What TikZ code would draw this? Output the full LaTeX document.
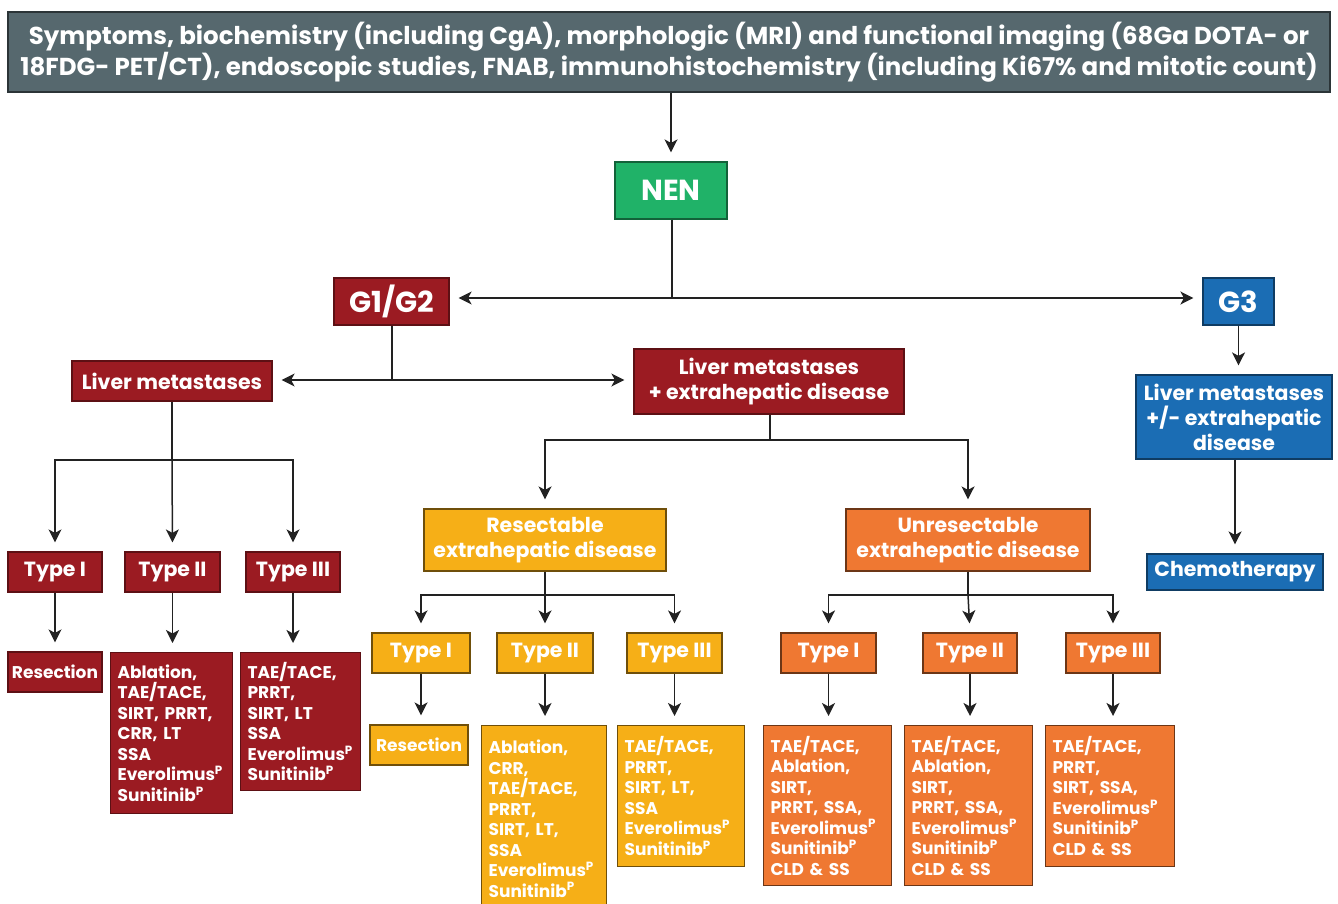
\documentclass[tikz,border=0pt]{standalone}
\usepackage{fontspec}
\setmainfont{Poppins}
\usetikzlibrary{arrows.meta}
\definecolor{cred}{HTML}{9B1B22}
\definecolor{cyel}{HTML}{F6AF17}
\definecolor{corg}{HTML}{EF7832}
\definecolor{cblu}{HTML}{1B6DB4}
\definecolor{cgrn}{HTML}{20B268}
\definecolor{cgry}{HTML}{56686E}
\definecolor{cline}{HTML}{222222}
\tikzset{
  nbox/.style={rectangle, text=white, font=\bfseries, inner sep=0pt, line width=1.2pt, align=center},
  redbox/.style={nbox, fill=cred, draw=cred!60!black},
  yelbox/.style={nbox, fill=cyel, draw=cyel!45!black},
  orgbox/.style={nbox, fill=corg, draw=corg!45!black},
  blubox/.style={nbox, fill=cblu, draw=cblu!55!black},
  grnbox/.style={nbox, fill=cgrn, draw=cgrn!55!black},
  grybox/.style={nbox, fill=cgry, draw=cgry!50!black},
  typef/.style={font=\fontsize{20.5}{25}\selectfont\bfseries},
  bigf/.style={font=\fontsize{29}{32}\selectfont\bfseries},
  resf/.style={font=\fontsize{17}{20}\selectfont\bfseries},
  listbox/.style={anchor=north west, align=left, inner xsep=7pt,
     font=\fontsize{17}{20.5}\selectfont\bfseries},
  conn/.style={draw=cline, line width=1.5pt},
  arr/.style={conn, -{Stealth[length=13pt,width=13pt,inset=3.5pt]}, shorten >=9pt},
}
\newcommand{\sP}{\textsuperscript{P}}
\begin{document}
\begin{tikzpicture}[x=1pt,y=-1pt]
\useasboundingbox (0,0) rectangle (1338,904);
\clip (0,0) rectangle (1338,904);
% top
\node[grybox, minimum width=1322, minimum height=80, font=\fontsize{24.5}{30}\selectfont\bfseries] (top) at (669,52)
  {Symptoms, biochemistry (including CgA), morphologic (MRI) and functional imaging (68Ga DOTA- or\\
   18FDG- PET/CT), endoscopic studies, FNAB, immunohistochemistry (including Ki67\% and mitotic count)};
\node[grnbox, minimum width=112, minimum height=57, bigf] (nen) at (671,190.5) {NEN};
\node[redbox, minimum width=115, minimum height=47, bigf] (g12) at (391.5,301.5) {G1/G2};
\node[blubox, minimum width=71, minimum height=47, bigf] (g3) at (1238.5,301.5) {G3};
\node[redbox, minimum width=200, minimum height=40, typef] (lm) at (172,381) {Liver metastases};
\node[redbox, minimum width=270, minimum height=65, typef] (lme) at (769,381.5) {Liver metastases\\+ extrahepatic disease};
\node[blubox, minimum width=196, minimum height=84, typef] (g3b) at (1234,417) {Liver metastases\\+/- extrahepatic\\disease};
\node[blubox, minimum width=176, minimum height=36, typef] (chemo) at (1235,572) {Chemotherapy};
% left branch
\node[redbox, minimum width=94, minimum height=40, typef] (lt1) at (55,572) {Type I};
\node[redbox, minimum width=95, minimum height=40, typef] (lt2) at (172.5,572) {Type II};
\node[redbox, minimum width=94, minimum height=40, typef] (lt3) at (293,572) {Type III};
\node[redbox, minimum width=94, minimum height=40, resf] (lr1) at (55,672) {Resection};
\node[redbox, listbox, text width=108, minimum height=161] (lr2) at (110,652)
 {Ablation,\\TAE/TACE,\\SIRT, PRRT,\\CRR, LT\\SSA\\Everolimus\sP\\Sunitinib\sP};
\node[redbox, listbox, text width=106, minimum height=138] (lr3) at (240,652)
 {TAE/TACE,\\PRRT,\\SIRT, LT\\SSA\\Everolimus\sP\\Sunitinib\sP};
% middle
\node[yelbox, minimum width=242, minimum height=62, typef] (res) at (545,540) {Resectable\\extrahepatic disease};
\node[orgbox, minimum width=244, minimum height=62, typef] (unres) at (968,540) {Unresectable\\extrahepatic disease};
\node[yelbox, minimum width=98, minimum height=40, typef] (mt1) at (421,653) {Type I};
\node[yelbox, minimum width=96, minimum height=40, typef] (mt2) at (545,653) {Type II};
\node[yelbox, minimum width=95, minimum height=40, typef] (mt3) at (674.5,653) {Type III};
\node[yelbox, minimum width=98, minimum height=40, resf] (mr1) at (419,745) {Resection};
\node[yelbox, listbox, text width=111, minimum height=186] (mr2) at (481,725)
 {Ablation,\\CRR,\\TAE/TACE,\\PRRT,\\SIRT, LT,\\SSA\\Everolimus\sP\\Sunitinib\sP};
\node[yelbox, listbox, text width=113, minimum height=141] (mr3) at (617,725)
 {TAE/TACE,\\PRRT,\\SIRT, LT,\\SSA\\Everolimus\sP\\Sunitinib\sP};
% right
\node[orgbox, minimum width=95, minimum height=40, typef] (rt1) at (828.5,653) {Type I};
\node[orgbox, minimum width=94, minimum height=40, typef] (rt2) at (970,653) {Type II};
\node[orgbox, minimum width=94, minimum height=40, typef] (rt3) at (1113,653) {Type III};
\node[orgbox, listbox, text width=114, minimum height=160] (rr1) at (763,725)
 {TAE/TACE,\\Ablation,\\SIRT,\\PRRT, SSA,\\Everolimus\sP\\Sunitinib\sP\\CLD \& SS};
\node[orgbox, listbox, text width=114, minimum height=160] (rr2) at (904,725)
 {TAE/TACE,\\Ablation,\\SIRT,\\PRRT, SSA,\\Everolimus\sP\\Sunitinib\sP\\CLD \& SS};
\node[orgbox, listbox, text width=115, minimum height=141] (rr3) at (1045,725)
 {TAE/TACE,\\PRRT,\\SIRT, SSA,\\Everolimus\sP\\Sunitinib\sP\\CLD \& SS};
% connectors
\draw[arr] (top.south -| nen) -- (nen.north);
\coordinate (j1) at (672,298);
\draw[conn] (nen.south -| j1) -- (j1);
\draw[arr] (j1) -- (g12.east |- j1);
\draw[arr] (j1) -- (g3.west |- j1);
\coordinate (j2) at (392,380);
\draw[conn] (g12.south -| j2) -- (j2);
\draw[arr] (j2) -- (lm.east |- j2);
\draw[arr] (j2) -- (lme.west |- j2);
\draw[arr] (g3.south) -- (g3.south |- g3b.north);
\draw[arr] (g3b.south -| chemo) -- (chemo.north);
% left
\coordinate (j3) at (172,460);
\draw[conn] (lm.south -| j3) -- (j3);
\draw[arr] (j3) -| (lt1.north);
\draw[arr] (j3) -| (lt3.north);
\draw[arr] (j3) -- (lt2.north);
\draw[arr] (lt1) -- (lr1);
\draw[arr] (lt2.south) -- (lt2.south |- lr2.north);
\draw[arr] (lt3.south) -- (lt3.south |- lr3.north);
% middle
\coordinate (j4) at (770,440);
\draw[conn] (lme.south -| j4) -- (j4);
\draw[arr] (j4) -| (res.north);
\draw[arr] (j4) -| (unres.north);
\coordinate (j5) at (545,595);
\draw[conn] (res.south -| j5) -- (j5);
\draw[arr] (j5) -| (mt1.north);
\draw[arr] (j5) -| (mt3.north);
\draw[arr] (j5) -- (mt2.north);
\draw[arr] (mt1.south) -- (mt1.south |- mr1.north);
\draw[arr] (mt2.south) -- (mt2.south |- mr2.north);
\draw[arr] (mt3.south) -- (mt3.south |- mr3.north);
\coordinate (j6) at (968,595);
\draw[conn] (unres.south -| j6) -- (j6);
\draw[arr] (j6) -| (rt1.north);
\draw[arr] (j6) -| (rt3.north);
\draw[arr] (j6) -- (rt2.north);
\draw[arr] (rt1.south) -- (rt1.south |- rr1.north);
\draw[arr] (rt2.south) -- (rt2.south |- rr2.north);
\draw[arr] (rt3.south) -- (rt3.south |- rr3.north);
\end{tikzpicture}
\end{document}
